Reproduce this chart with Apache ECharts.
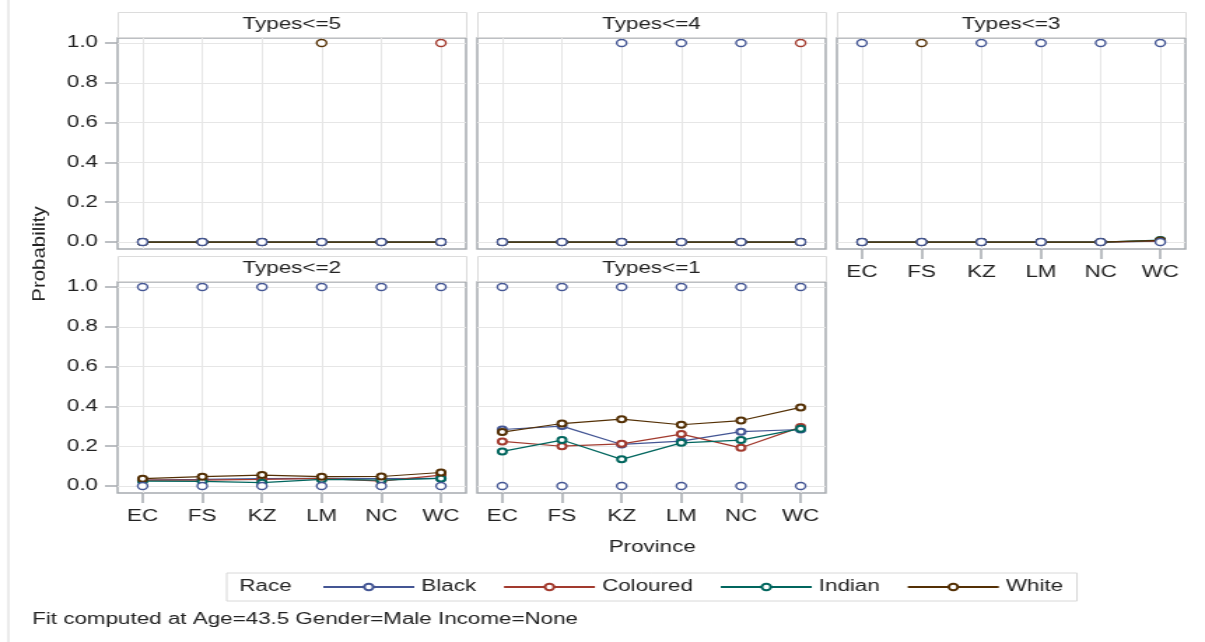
<!DOCTYPE html>
<html>
<head>
<meta charset="utf-8">
<script src="https://cdn.jsdelivr.net/npm/echarts@6/dist/echarts.min.js"></script>
<style>
  html, body { margin: 0; padding: 0; background: #fff; overflow: hidden; }
  /* the reference is stretched sideways, so draw narrow and stretch it */
  #chart { width: 861px; height: 642px; transform: scaleX(1.3995); transform-origin: 0 0; }
</style>
</head>
<body>
<div id="chart"></div>
<script>
// data
const provinces = ["EC", "FS", "KZ", "LM", "NC", "WC"];
const races = ["Black", "Coloured", "Indian", "White"];
const panelTitles = ["Types<=5", "Types<=4", "Types<=3", "Types<=2", "Types<=1"];
const yTicks = [0, 0.2, 0.4, 0.6, 0.8, 1.0];

// fitted probabilities, one row per race (Black, Coloured, Indian, White)
const fitT5 = [
    [0, 0, 0, 0, 0, 0],
    [0, 0, 0, 0, 0, 0],
    [0, 0, 0, 0, 0, 0],
    [0, 0, 0, 0, 0, 0]
];
const fitT4 = [
    [0, 0, 0, 0, 0, 0],
    [0, 0, 0, 0, 0, 0],
    [0, 0, 0, 0, 0, 0],
    [0, 0, 0, 0, 0, 0]
];
const fitT3 = [
    [0, 0, 0, 0, 0, 0.004],
    [0, 0, 0, 0, 0, 0.006],
    [0, 0, 0, 0, 0, 0.01],
    [0, 0, 0, 0, 0, 0.008]
];
const fitT2 = [
    [0.03, 0.033, 0.037, 0.038, 0.037, 0.038],
    [0.03, 0.03, 0.033, 0.038, 0.025, 0.055],
    [0.025, 0.023, 0.017, 0.033, 0.03, 0.038],
    [0.037, 0.047, 0.055, 0.047, 0.048, 0.068]
];
const fitT1 = [
    [0.284, 0.301, 0.209, 0.226, 0.273, 0.284],
    [0.224, 0.2, 0.212, 0.261, 0.192, 0.296],
    [0.174, 0.231, 0.134, 0.217, 0.231, 0.288],
    [0.271, 0.314, 0.336, 0.308, 0.329, 0.395]
];

// observed responses [province, value], one list per race
const obsT5 = [
    [["EC", 0], ["FS", 0], ["KZ", 0], ["LM", 0], ["NC", 0], ["WC", 0]],
    [["WC", 1]],
    [],
    [["LM", 1]]
];
const obsT4 = [
    [["EC", 0], ["FS", 0], ["KZ", 0], ["LM", 0], ["NC", 0], ["WC", 0], ["KZ", 1], ["LM", 1], ["NC", 1]],
    [["WC", 1]],
    [],
    []
];
const obsT3 = [
    [["EC", 0], ["FS", 0], ["KZ", 0], ["LM", 0], ["NC", 0], ["WC", 0],
     ["EC", 1], ["KZ", 1], ["LM", 1], ["NC", 1], ["WC", 1]],
    [],
    [],
    [["FS", 1]]
];
const obsT2 = [
    [["EC", 0], ["FS", 0], ["KZ", 0], ["LM", 0], ["NC", 0], ["WC", 0],
     ["EC", 1], ["FS", 1], ["KZ", 1], ["LM", 1], ["NC", 1], ["WC", 1]],
    [],
    [],
    []
];
const obsT1 = [
    [["EC", 0], ["FS", 0], ["KZ", 0], ["LM", 0], ["NC", 0], ["WC", 0],
     ["EC", 1], ["FS", 1], ["KZ", 1], ["LM", 1], ["NC", 1], ["WC", 1]],
    [],
    [],
    []
];

const fits = [fitT5, fitT4, fitT3, fitT2, fitT1];
const observed = [obsT5, obsT4, obsT3, obsT2, obsT1];

const raceColors = ["#445694", "#a23a2e", "#01665e", "#543005"];
const font = "Liberation Sans";
const boxColor = "#a6abb0";
const gridColor = "#e6e6e6";

// panel layout (before the sideways stretch)
const colLeft = [84, 341, 598];
const rowTop = [38, 282];
const boxW = 249;
const boxH = 211;
const place = [[0, 0], [0, 1], [0, 2], [1, 0], [1, 1]]; // [row, col]
const showX = [false, false, true, true, true];

var myChart = echarts.init(document.getElementById("chart"));

const grids = [], xAxes = [], yAxes = [], series = [], graphics = [];

place.forEach(([r, c], p) => {
    grids.push({
        left: colLeft[c], top: rowTop[r], width: boxW, height: boxH,
        show: true, borderColor: boxColor, borderWidth: 1.5, backgroundColor: "#fff"
    });
    xAxes.push({
        type: "value", gridIndex: p, min: -0.42, max: 5.42,
        axisLine: { show: false, onZero: false },
        axisTick: { show: showX[p], length: 10, customValues: [0, 1, 2, 3, 4, 5],
            lineStyle: { color: boxColor, width: 1.5 } },
        axisLabel: { show: showX[p], customValues: [0, 1, 2, 3, 4, 5], margin: 16,
            formatter: v => provinces[Math.round(v)],
            fontFamily: font, fontSize: 16, color: "#222" },
        splitLine: { show: true, lineStyle: { color: gridColor, width: 1 } }
    });
    yAxes.push({
        type: "value", gridIndex: p, min: -0.035, max: 1.025,
        axisLine: { show: false, onZero: false },
        axisTick: { show: c === 0, length: 9, customValues: yTicks,
            lineStyle: { color: boxColor, width: 1.5 } },
        axisLabel: { show: c === 0, customValues: yTicks, margin: 14,
            formatter: v => v.toFixed(1),
            fontFamily: font, fontSize: 16, color: "#222" },
        splitLine: { show: true, lineStyle: { color: gridColor, width: 1 } }
    });

    // panel header
    graphics.push({
        type: "rect", left: colLeft[c], top: rowTop[r] - 26,
        shape: { width: boxW, height: 25 },
        style: { fill: "#fff", stroke: "#dcdcdc", lineWidth: 1 }
    });
    graphics.push({
        type: "text", x: colLeft[c] + boxW / 2, y: rowTop[r] - 13.5,
        style: { text: panelTitles[p], fill: "#222", font: "16px " + font,
            textAlign: "center", textVerticalAlign: "middle" }
    });

    // fitted lines
    races.forEach((race, k) => {
        series.push({
            type: "line", name: race, xAxisIndex: p, yAxisIndex: p,
            data: fits[p][k].map((v, i) => [i, v]),
            symbol: "emptyCircle", symbolSize: 6, color: raceColors[k],
            lineStyle: { width: 1.2 }, itemStyle: { borderWidth: 1.3 },
            z: 2
        });
    });
    // observed points, drawn above the fits
    races.forEach((race, k) => {
        if (!observed[p][k].length) return;
        series.push({
            type: "scatter", name: race, xAxisIndex: p, yAxisIndex: p,
            data: observed[p][k].map(([prov, v]) => [provinces.indexOf(prov), v]),
            symbol: "circle", symbolSize: 7, color: raceColors[k],
            itemStyle: { color: "#fff", borderColor: raceColors[k], borderWidth: 1.4, opacity: 1 },
            z: 10
        });
    });
});

// axis titles, legend label, footnote, page edge
graphics.push({
    type: "text", x: 28, y: 254, rotation: Math.PI / 2, scaleX: 1.57,
    style: { text: "Probability", fill: "#222", font: "13px " + font,
        textAlign: "center", textVerticalAlign: "middle" }
});
graphics.push({
    type: "text", x: 466, y: 548,
    style: { text: "Province", fill: "#222", font: "16px " + font,
        textAlign: "center", textVerticalAlign: "middle" }
});
graphics.push({
    type: "text", x: 171, y: 587,
    style: { text: "Race", fill: "#222", font: "16px " + font, textVerticalAlign: "middle" }
});
graphics.push({
    type: "text", x: 23, y: 620,
    style: { text: "Fit computed at Age=43.5 Gender=Male Income=None", fill: "#222",
        font: "16px " + font, textVerticalAlign: "middle" }
});
graphics.push({
    type: "line", shape: { x1: 6, y1: 0, x2: 6, y2: 642 },
    style: { stroke: "#d8d8d8", lineWidth: 1 }
});

const option = {
    animation: false,
    backgroundColor: "#fff",
    grid: grids,
    xAxis: xAxes,
    yAxis: yAxes,
    legend: {
        data: races, left: 162, top: 573,
        padding: [6, 10, 6, 68], itemGap: 19, itemWidth: 65, itemHeight: 8,
        borderColor: "#d8d8d8", borderWidth: 1,
        textStyle: { fontFamily: font, fontSize: 16, color: "#222" }
    },
    graphic: graphics,
    series: series
};
myChart.setOption(option);
</script>
</body>
</html>
